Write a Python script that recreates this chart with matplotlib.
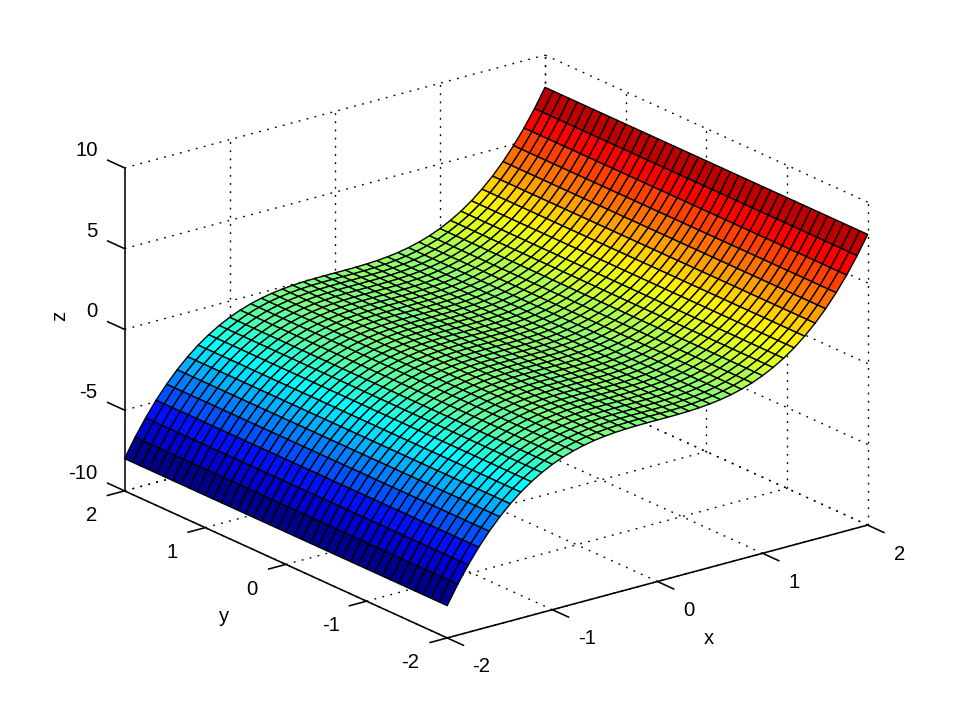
import numpy as np
import matplotlib
matplotlib.use("Agg")
import matplotlib.pyplot as plt
from matplotlib.colors import ListedColormap, Normalize
from mpl_toolkits.mplot3d import proj3d

plt.rcParams['font.family'] = ['Liberation Sans', 'DejaVu Sans']

# --- data -----------------------------------------------------------------
x_values = [-2.0, -1.9, -1.8, -1.7, -1.6, -1.5, -1.4, -1.3, -1.2, -1.1, -1.0,
            -0.9, -0.8, -0.7, -0.6, -0.5, -0.4, -0.3, -0.2, -0.1, 0.0,
            0.1, 0.2, 0.3, 0.4, 0.5, 0.6, 0.7, 0.8, 0.9, 1.0,
            1.1, 1.2, 1.3, 1.4, 1.5, 1.6, 1.7, 1.8, 1.9, 2.0]
y_values = list(x_values)
z_profile = [-8.0, -6.859, -5.832, -4.913, -4.096, -3.375, -2.744, -2.197,
             -1.728, -1.331, -1.0, -0.729, -0.512, -0.343, -0.216, -0.125,
             -0.064, -0.027, -0.008, -0.001, 0.0,
             0.001, 0.008, 0.027, 0.064, 0.125, 0.216, 0.343, 0.512, 0.729,
             1.0, 1.331, 1.728, 2.197, 2.744, 3.375, 4.096, 4.913, 5.832,
             6.859, 8.0]
x_ticks = [-2, -1, 0, 1, 2]
y_ticks = [-2, -1, 0, 1, 2]
z_ticks = [-10, -5, 0, 5, 10]

# --- classic 64-level jet --------------------------------------------------
idx = np.arange(1, 65)
jet64 = ListedColormap(np.column_stack([
    np.interp(idx, [24, 40, 56, 64], [0, 1, 1, 0.5]),
    np.interp(idx, [8, 24, 40, 56], [0, 1, 1, 0]),
    np.interp(idx, [1, 8, 24, 40], [0.5625, 1, 1, 0]),
]))

W, H = 958, 719
fig = plt.figure(figsize=(W / 100, H / 100), dpi=100, facecolor='white')
L = 1000
ax = fig.add_axes([-17.4 / W, -141.0 / H, L / W, L / H], projection='3d',
                  proj_type='ortho', computed_zorder=False)
ax.view_init(elev=20.47, azim=-127.5)
ax.set_box_aspect((1, 1, 0.6505), zoom=0.8009)
ax.set_xlim(-2, 2)
ax.set_ylim(-2, 2)
ax.set_zlim(-10, 10)
ax.set_axis_off()
ax.patch.set_alpha(0)

xmin, xmax, ymin, ymax, zmin, zmax = -2, 2, -2, 2, -10, 10

# --- dotted grid on the back walls and floor -------------------------------
dot = dict(color='black', lw=1.0, ls=(0, (1.3, 4.6)), zorder=1)
for xt in x_ticks:
    if xt > xmin:
        ax.plot([xt, xt], [ymax, ymax], [zmin, zmax], **dot)
    ax.plot([xt, xt], [ymin, ymax], [zmin, zmin], **dot)
for yt in y_ticks:
    ax.plot([xmax, xmax], [yt, yt], [zmin, zmax], **dot)
    ax.plot([xmin, xmax], [yt, yt], [zmin, zmin], **dot)
for zt in z_ticks:
    ax.plot([xmin, xmax], [ymax, ymax], [zt, zt], **dot)
    ax.plot([xmax, xmax], [ymin, ymax], [zt, zt], **dot)

# --- surface ---------------------------------------------------------------
X, Y = np.meshgrid(x_values, y_values)
Z = np.tile(np.array(z_profile), (len(y_values), 1))
face = jet64(Normalize(min(z_profile), max(z_profile))(Z))
surf = ax.plot_surface(X, Y, Z, rstride=1, cstride=1, facecolors=face,
                       shade=False, antialiased=True, linewidth=1.0, zorder=2)
surf.set_edgecolor('black')
surf.set_linewidth(1.0)

# --- solid axes and ticks --------------------------------------------------
sol = dict(color='black', lw=1.15, zorder=3, solid_capstyle='butt')
ax.plot([xmin, xmax], [ymin, ymin], [zmin, zmin], **sol)
ax.plot([xmin, xmin], [ymin, ymax], [zmin, zmin], **sol)
ax.plot([xmin, xmin], [ymax, ymax], [zmin, zmax], **sol)

fs = 14.6
M = ax.get_proj()
x_nudge = {-2: -1, -1: 0, 0: -3, 1: -3, 2: -3}
y_nudge = {-2: -1, -1: 1, 0: 2, 1: 3, 2: 3}


def label3d(x, y, z, s, ha='center', dx=0):
    """Place a tick label at a 3-D anchor, as plain 2-D axes text."""
    px, py, _ = proj3d.proj_transform(x, y, z, M)
    ax.annotate(s, (px, py), xycoords='data', xytext=(dx, 0),
                textcoords='offset pixels', fontsize=fs, ha=ha, va='center',
                annotation_clip=False)


for xt in x_ticks:
    ax.plot([xt, xt], [ymin, ymin - 0.21], [zmin, zmin], **sol)
    label3d(xt, ymin - 0.43, zmin - 0.82, str(xt), dx=x_nudge[xt])
for yt in y_ticks:
    ax.plot([xmin, xmin - 0.17], [yt, yt], [zmin, zmin], **sol)
    label3d(xmin - 0.343, yt, zmin - 0.93, str(yt), dx=y_nudge[yt])
for zt in z_ticks:
    ax.plot([xmin, xmin], [ymax, ymax + 0.218], [zt, zt], **sol)
    label3d(xmin, ymax + 0.335, zt + 0.32, str(zt), ha='right')

# --- axis labels -----------------------------------------------------------
fig.text(709 / W, 1 - 638 / H, 'x', fontsize=fs, ha='center', va='center')
fig.text(224 / W, 1 - 616 / H, 'y', fontsize=fs, ha='center', va='center')
fig.text(60 / W, 1 - 316 / H, 'z', fontsize=fs, ha='center', va='center', rotation=90)

fig.savefig('out.png', dpi=100, facecolor='white')
